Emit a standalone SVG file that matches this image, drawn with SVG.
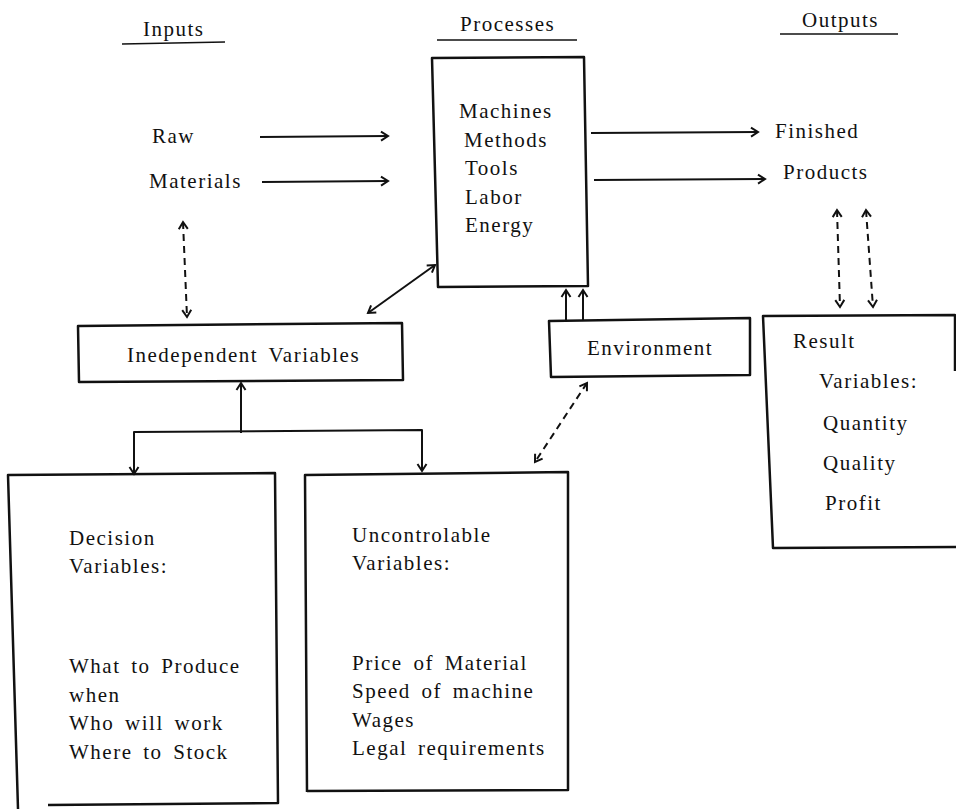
<svg xmlns="http://www.w3.org/2000/svg" width="956" height="809" viewBox="0 0 956 809">
  <style>
    .lbl { font-family: 'Liberation Serif', serif; font-size: 21px; letter-spacing: 1.5px; word-spacing: 4px; fill: #111; }
    .box { fill: none; stroke: #111; stroke-width: 2.5; stroke-linejoin: round; }
    .rule { stroke: #111; stroke-width: 1.5; fill: none; }
    .line { stroke: #111; stroke-width: 2; fill: none; }
    .dash { stroke: #111; stroke-width: 2; fill: none; stroke-dasharray: 7 5; }
  </style>
  <defs>
    <marker id="head" markerUnits="userSpaceOnUse" markerWidth="14" markerHeight="14" refX="10" refY="6" orient="auto-start-reverse">
      <path d="M3,1.5 L10,6 L3,10.5" fill="none" stroke="#111" stroke-width="2"/>
    </marker>
  </defs>
  <rect width="956" height="809" fill="#fff"/>

  <g font-family="Liberation Serif" class="lbl">
  <!-- column headings -->
  <g id="heading-inputs">
    <text x="143" y="36">Inputs</text>
    <line class="rule" x1="122" y1="44" x2="225" y2="42"/>
  </g>
  <g id="heading-processes">
    <text x="460" y="31">Processes</text>
    <line class="rule" x1="437" y1="40" x2="577" y2="40"/>
  </g>
  <g id="heading-outputs">
    <text x="802" y="27">Outputs</text>
    <line class="rule" x1="780" y1="34" x2="898" y2="34"/>
  </g>

  <!-- inputs -->
  <g id="raw-materials">
    <text x="152" y="143">Raw</text>
    <text x="149" y="188">Materials</text>
  </g>

  <!-- process box -->
  <g id="processes">
    <polygon class="box" points="432,58 584,57 588,286 438,287"/>
    <text x="459" y="118">Machines</text>
    <text x="464" y="147">Methods</text>
    <text x="465" y="175">Tools</text>
    <text x="465" y="204">Labor</text>
    <text x="465" y="232">Energy</text>
  </g>

  <!-- outputs -->
  <g id="finished-products">
    <text x="775" y="138">Finished</text>
    <text x="783" y="179">Products</text>
  </g>

  <g id="independent-variables">
    <polygon class="box" points="78,326 402,323 403,380 79,382"/>
    <text x="127" y="362">Inedependent Variables</text>
  </g>

  <g id="environment">
    <polygon class="box" points="549,321 750,318 750,375 551,377"/>
    <text x="587" y="355">Environment</text>
  </g>

  <g id="result-variables">
    <path class="box" d="M955,371 L955,315 L763,316 L773,548 L956,547"/>
    <text x="793" y="348">Result</text>
    <text x="819" y="388">Variables:</text>
    <text x="823" y="430">Quantity</text>
    <text x="823" y="470">Quality</text>
    <text x="825" y="510">Profit</text>
  </g>

  <g id="decision-variables">
    <path class="box" d="M18,809 L8,475 L275,473 L278,803 L48,805"/>
    <text x="69" y="545">Decision</text>
    <text x="69" y="573">Variables:</text>
    <text x="69" y="673">What to Produce</text>
    <text x="69" y="702">when</text>
    <text x="69" y="730">Who will work</text>
    <text x="69" y="759">Where to Stock</text>
  </g>

  <g id="uncontrollable-variables">
    <path class="box" d="M307,792 L305,475 L568,472 L568,790 L307,791"/>
    <text x="352" y="542">Uncontrolable</text>
    <text x="352" y="570">Variables:</text>
    <text x="352" y="670">Price of Material</text>
    <text x="352" y="698">Speed of machine</text>
    <text x="352" y="727">Wages</text>
    <text x="352" y="755">Legal requirements</text>
  </g>
  </g>

  <!-- connectors -->
  <g id="connectors">
    <!-- material flow -->
    <line class="line" x1="260" y1="137" x2="388" y2="136" marker-end="url(#head)"/>
    <line class="line" x1="262" y1="182" x2="388" y2="181" marker-end="url(#head)"/>
    <line class="line" x1="591" y1="133" x2="758" y2="132" marker-end="url(#head)"/>
    <line class="line" x1="594" y1="180" x2="765" y2="179" marker-end="url(#head)"/>

    <!-- feedback links -->
    <line class="dash" x1="183" y1="222" x2="187" y2="317" marker-start="url(#head)" marker-end="url(#head)"/>
    <line class="line" x1="368" y1="313" x2="435" y2="265" marker-start="url(#head)" marker-end="url(#head)"/>
    <line class="dash" x1="837" y1="210" x2="840" y2="307" marker-start="url(#head)" marker-end="url(#head)"/>
    <line class="dash" x1="866" y1="210" x2="873" y2="307" marker-start="url(#head)" marker-end="url(#head)"/>
    <line class="dash" x1="587" y1="383" x2="535" y2="462" marker-start="url(#head)" marker-end="url(#head)"/>

    <!-- environment into processes -->
    <line class="line" x1="566" y1="320" x2="566" y2="290" marker-end="url(#head)"/>
    <line class="line" x1="583" y1="320" x2="583" y2="290" marker-end="url(#head)"/>

    <!-- decision / uncontrollable into independent -->
    <line class="line" x1="241" y1="433" x2="241" y2="383" marker-end="url(#head)"/>
    <polyline class="line" points="134,473 134,432 422,430 422,470" stroke-linejoin="round"/>
    <line class="line" x1="134" y1="460" x2="134" y2="474" marker-end="url(#head)"/>
    <line class="line" x1="422" y1="458" x2="422" y2="471" marker-end="url(#head)"/>
  </g>
</svg>
